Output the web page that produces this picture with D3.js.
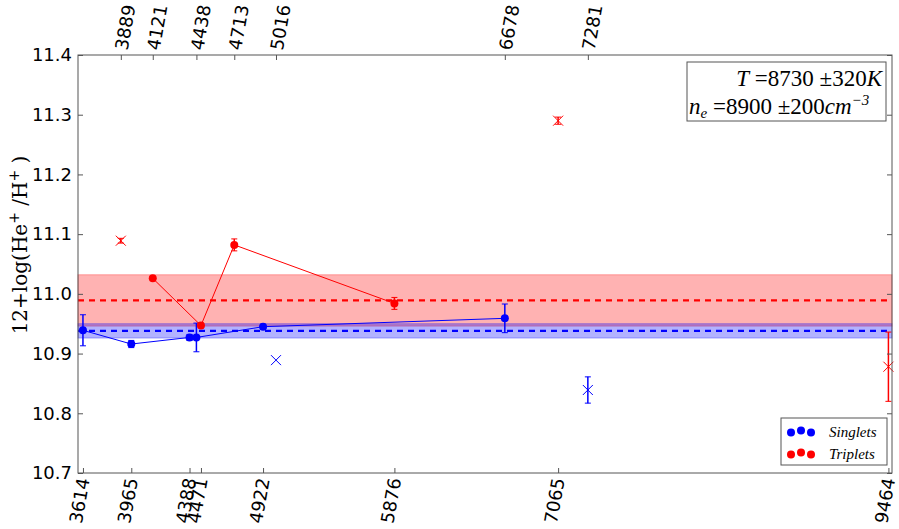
<!DOCTYPE html>
<html>
<head>
<meta charset="utf-8">
<script src="https://cdn.jsdelivr.net/npm/d3@7"></script>
<style>
  body { margin: 0; background: #fff; }
  svg text { font-family: "DejaVu Sans", sans-serif; }
</style>
</head>
<body>
<svg id="chart" width="899" height="529"></svg>
<script>
// singlets joined by the line
const singletWave = [3614, 3965, 4388, 4438, 4922, 6678];
const singletVal = [10.939, 10.916, 10.927, 10.927, 10.945, 10.959];
const singletErr = [0.026, 0.006, 0.005, 0.024, 0.004, 0.024];
// singlets left out (crosses)
const singletOutWave = [5016, 7281];
const singletOutVal = [10.889, 10.839];
const singletOutErr = [0.0, 0.022];
// triplets joined by the line
const tripletWave = [4121, 4471, 4713, 5876];
const tripletVal = [11.026, 10.947, 11.082, 10.984];
const tripletErr = [0.002, 0.004, 0.010, 0.010];
// triplets left out (crosses)
const tripletOutWave = [3889, 7065, 9464];
const tripletOutVal = [11.089, 11.290, 10.878];
const tripletOutErr = [0.004, 0.006, 0.058];

const singletMean = 10.938, singletBand = 0.012;
const tripletMean = 10.989, tripletBand = 0.043;

const bottomTicks = [3614, 3965, 4388, 4471, 4922, 5876, 7065, 9464];
const topTicks = [3889, 4121, 4438, 4713, 5016, 6678, 7281];
const yTicks = [10.7, 10.8, 10.9, 11.0, 11.1, 11.2, 11.3, 11.4];

const svg = d3.select("#chart");
const mLeft = 78, mRight = 892, mTop = 55, mBottom = 473;

const x = d3.scaleLinear().domain([3578, 9490]).range([mLeft, mRight]);
const y = d3.scaleLinear().domain([10.7, 11.4]).range([mBottom, mTop]);

const blue = "#0000ff", red = "#ff0000";

// bands
const bands = [
  {m: tripletMean, e: tripletBand, c: red},
  {m: singletMean, e: singletBand, c: blue}
];
bands.forEach(b => {
  svg.append("rect")
    .attr("x", mLeft).attr("width", mRight - mLeft)
    .attr("y", y(b.m + b.e)).attr("height", y(b.m - b.e) - y(b.m + b.e))
    .attr("fill", b.c).attr("fill-opacity", 0.3)
    .attr("stroke", b.c).attr("stroke-opacity", 0.3);
  svg.append("line")
    .attr("x1", mLeft).attr("x2", mRight)
    .attr("y1", y(b.m)).attr("y2", y(b.m))
    .attr("stroke", b.c).attr("stroke-width", 2.2)
    .attr("stroke-dasharray", "6,5");
});

const zip = (w, v, e) => w.map((d, i) => ({w: d, v: v[i], e: e[i]}));

function errorBars(data, color) {
  const g = svg.append("g");
  data.filter(d => d.e > 0).forEach(d => {
    g.append("line").attr("x1", x(d.w)).attr("x2", x(d.w))
      .attr("y1", y(d.v + d.e)).attr("y2", y(d.v - d.e))
      .attr("stroke", color).attr("stroke-width", 1.5);
    [d.v + d.e, d.v - d.e].forEach(c => {
      g.append("line").attr("x1", x(d.w) - 3).attr("x2", x(d.w) + 3)
        .attr("y1", y(c)).attr("y2", y(c))
        .attr("stroke", color).attr("stroke-width", 1);
    });
  });
}

function joined(data, color) {
  errorBars(data, color);
  svg.append("path").datum(data)
    .attr("d", d3.line().x(d => x(d.w)).y(d => y(d.v)))
    .attr("fill", "none").attr("stroke", color).attr("stroke-width", 1);
  svg.append("g").selectAll("circle").data(data).join("circle")
    .attr("cx", d => x(d.w)).attr("cy", d => y(d.v)).attr("r", 4)
    .attr("fill", color);
}

function crosses(data, color) {
  errorBars(data, color);
  const s = 5;
  svg.append("g").selectAll("path").data(data).join("path")
    .attr("d", d => `M${x(d.w) - s},${y(d.v) - s}L${x(d.w) + s},${y(d.v) + s}M${x(d.w) - s},${y(d.v) + s}L${x(d.w) + s},${y(d.v) - s}`)
    .attr("stroke", color).attr("stroke-width", 1);
}

joined(zip(singletWave, singletVal, singletErr), blue);
joined(zip(tripletWave, tripletVal, tripletErr), red);
crosses(zip(singletOutWave, singletOutVal, singletOutErr), blue);
crosses(zip(tripletOutWave, tripletOutVal, tripletOutErr), red);

// frame
svg.append("rect").attr("x", mLeft).attr("y", mTop)
  .attr("width", mRight - mLeft).attr("height", mBottom - mTop)
  .attr("fill", "none").attr("stroke", "#555").attr("stroke-width", 1);

// axes with inward ticks
const fs = "18px";
const yAxis = svg.append("g").attr("transform", `translate(${mLeft},0)`)
  .call(d3.axisLeft(y).tickValues(yTicks).tickFormat(d3.format(".1f")).tickSizeInner(-5).tickSizeOuter(0).tickPadding(6));
const yAxisR = svg.append("g").attr("transform", `translate(${mRight},0)`)
  .call(d3.axisRight(y).tickValues(yTicks).tickFormat("").tickSizeInner(-5).tickSizeOuter(0));
const xAxis = svg.append("g").attr("transform", `translate(0,${mBottom})`)
  .call(d3.axisBottom(x).tickValues(bottomTicks).tickFormat(d3.format("d")).tickSizeInner(-5).tickSizeOuter(0));
const xTop = svg.append("g").attr("transform", `translate(0,${mTop})`)
  .call(d3.axisTop(x).tickValues(topTicks).tickFormat(d3.format("d")).tickSizeInner(-5).tickSizeOuter(0));

[yAxis, yAxisR, xAxis, xTop].forEach(a => {
  a.select(".domain").remove();
  a.selectAll(".tick line").attr("stroke", "#555");
  a.selectAll("text").attr("fill", "#000").style("font-size", fs);
});

xAxis.selectAll("text")
  .attr("text-anchor", "end").attr("dy", "0.35em").attr("y", 0)
  .attr("transform", "translate(0,5) rotate(-80)");
xTop.selectAll("text")
  .attr("text-anchor", "start").attr("dy", "0.35em").attr("y", 0)
  .attr("transform", "translate(0,-5) rotate(-80)");

// y label
const yl = svg.append("text")
  .attr("transform", `translate(27,245) rotate(-90)`)
  .attr("text-anchor", "middle")
  .style("font-family", "'DejaVu Serif', serif").style("font-size", "20px");
yl.append("tspan").text("12+log(He");
yl.append("tspan").attr("dy", -8).style("font-size", "14px").text("+");
yl.append("tspan").attr("dy", 8).text(" /H");
yl.append("tspan").attr("dy", -8).style("font-size", "14px").text("+");
yl.append("tspan").attr("dy", 8).text(" )");

// annotation box
const serif = "'Liberation Serif', 'DejaVu Serif', serif";
svg.append("rect").attr("x", 687).attr("y", 62).attr("width", 199).attr("height", 59)
  .attr("fill", "#fff").attr("stroke", "#555");
const t1 = svg.append("text").attr("x", 882).attr("y", 86).attr("text-anchor", "end")
  .style("font-family", serif).style("font-size", "23px");
t1.append("tspan").style("font-style", "italic").text("T");
t1.append("tspan").text(" =8730 \u00b1320");
t1.append("tspan").style("font-style", "italic").text("K");
const t2 = svg.append("text").attr("x", 689).attr("y", 114)
  .style("font-family", serif).style("font-size", "23px");
t2.append("tspan").style("font-style", "italic").text("n");
t2.append("tspan").attr("dy", 4).style("font-style", "italic").style("font-size", "15px").text("e");
t2.append("tspan").attr("dy", -4).text(" =8900 \u00b1200");
t2.append("tspan").style("font-style", "italic").text("cm");
t2.append("tspan").attr("dy", -9).style("font-size", "15px").style("font-style", "italic").text("\u22123");

// legend
const legendNames = ["Singlets", "Triplets"];
const legendColors = [blue, red];
svg.append("rect").attr("x", 781).attr("y", 418).attr("width", 106).attr("height", 47)
  .attr("fill", "#fff").attr("stroke", "#555");
legendNames.forEach((n, i) => {
  const cy = 432 + i * 22;
  [791, 801, 811].forEach((cx, j) => {
    svg.append("circle").attr("cx", cx).attr("cy", cy + (j === 1 ? -1.5 : 0.5)).attr("r", 4).attr("fill", legendColors[i]);
  });
  svg.append("text").attr("x", 829).attr("y", cy + 5)
    .style("font-family", serif).style("font-style", "italic").style("font-size", "15px").text(n);
});
</script>
</body>
</html>
